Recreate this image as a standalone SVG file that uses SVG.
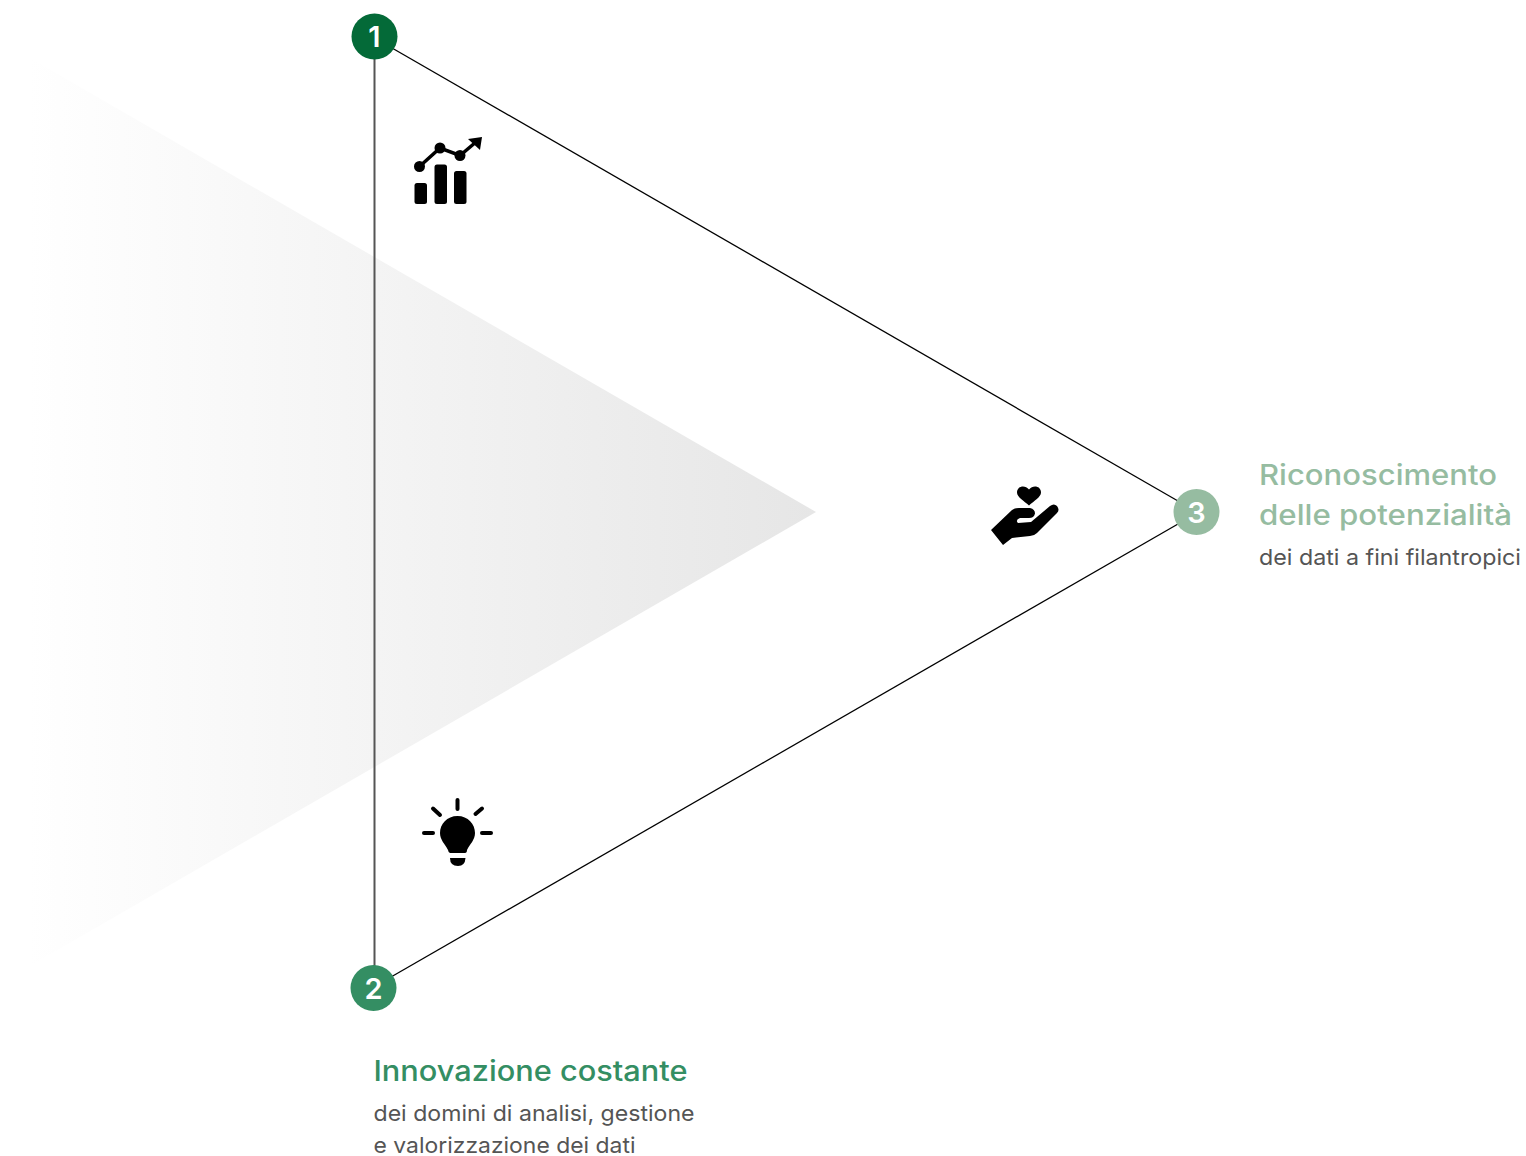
<svg xmlns="http://www.w3.org/2000/svg" width="1526" height="1156" viewBox="0 0 1526 1156">
<style>
text{font-family:"Inter","Liberation Sans",sans-serif}
.t{font-size:28px;font-weight:500}
.s{font-size:22px;fill:#555}
.n{font-size:29px;font-weight:600;fill:#fff;text-anchor:middle}
.i{fill:#000}
.l{stroke:#000;stroke-width:1.300;fill:none}
</style>
<defs><linearGradient id="g" x1="0" x2="1" y1="0" y2="0"><stop offset="0" stop-color="#ffffff"/><stop offset="1" stop-color="#e6e6e6"/></linearGradient></defs>
<rect width="1526" height="1156" fill="#fff"/>
<polygon id="shade" points="28,57 816,512 28,967" fill="url(#g)"/>
<g id="connectors">
<line x1="374.500" y1="58" x2="374.500" y2="966" stroke="#555" stroke-width="2"/>
<line class="l" x1="392" y1="48" x2="1178" y2="501"/>
<line class="l" x1="391" y1="977" x2="1178" y2="524"/>
</g>
<g id="node-1"><circle cx="374.500" cy="36.500" r="23" fill="#046a38"/><text class="n" x="374.500" y="47">1</text></g>
<g id="node-2"><circle cx="373.500" cy="988" r="23" fill="#348e63"/><text class="n" x="373.500" y="998.500">2</text></g>
<g id="node-3"><circle cx="1196.500" cy="512" r="23" fill="#96bca1"/><text class="n" x="1196.500" y="522.500">3</text></g>
<g id="icon-chart">
<rect class="i" x="414.500" y="183" width="12.500" height="21" rx="2.500"/><rect class="i" x="434.500" y="164.500" width="12.500" height="39.500" rx="2.500"/><rect class="i" x="454" y="171" width="12.500" height="33" rx="2.500"/>
<circle class="i" cx="419.500" cy="166.500" r="5.500"/><circle class="i" cx="440" cy="148" r="5.500"/><circle class="i" cx="460" cy="155.500" r="5.500"/>
<polyline points="419.500,166.500 440,148 460,155.500 476,142" fill="none" stroke="#000" stroke-width="3.500"/>
<polygon class="i" points="482,137 480,150 468,139"/>
</g>
<g id="icon-hand">
<path class="i" d="M1029 505.500 C1024 501 1017 497 1017 492.500 C1017 486 1025 484.500 1029 489.500 C1033 484.500 1041 486 1041 492.500 C1041 497 1034 501 1029 505.500Z"/>
<path class="i" d="M991 530 L1012 510 Q1015 508 1019 508 L1030 508 Q1035 509 1035 513.500 Q1034 518 1029 518 L1020 518 Q1015 520 1018 523 L1031 522 L1050 506 Q1054 503 1057 506 Q1060 510 1057 513 L1037 533 Q1034 536 1030 536 L1012 538 L1003 545Z"/>
</g>
<g id="icon-bulb">
<path class="i" d="M457.500 816 C447 816 440 824 440 833 C440 840 445 844 448 850 Q448.500 853 450 853 L465 853 Q467 853 467 850 C470 844 475 840 475 833 C475 824 468 816 457.500 816Z"/>
<path class="i" d="M450 858 L465.500 858 Q465 866 458 866 Q450 866 450 858Z"/>
<g stroke="#000" stroke-width="4" stroke-linecap="round"><line x1="457.500" y1="800" x2="457.500" y2="809"/><line x1="433" y1="808.500" x2="440" y2="815"/><line x1="482" y1="808.500" x2="475.500" y2="814"/><line x1="424" y1="833" x2="433" y2="833"/><line x1="482" y1="833" x2="491" y2="833"/></g>
</g>
<g id="label-3">
<text class="t" x="1259" y="485" fill="#96bca1" textLength="238" lengthAdjust="spacingAndGlyphs">Riconoscimento</text>
<text class="t" x="1259" y="525" fill="#96bca1" textLength="253" lengthAdjust="spacingAndGlyphs">delle potenzialità</text>
<text class="s" x="1259" y="565" textLength="262" lengthAdjust="spacingAndGlyphs">dei dati a fini filantropici</text>
</g>
<g id="label-2">
<text class="t" x="373.500" y="1081" fill="#348e63" textLength="314" lengthAdjust="spacingAndGlyphs">Innovazione costante</text>
<text class="s" x="373.500" y="1121" textLength="321" lengthAdjust="spacingAndGlyphs">dei domini di analisi, gestione</text>
<text class="s" x="373.500" y="1153" textLength="262" lengthAdjust="spacingAndGlyphs">e valorizzazione dei dati</text>
</g>
</svg>
